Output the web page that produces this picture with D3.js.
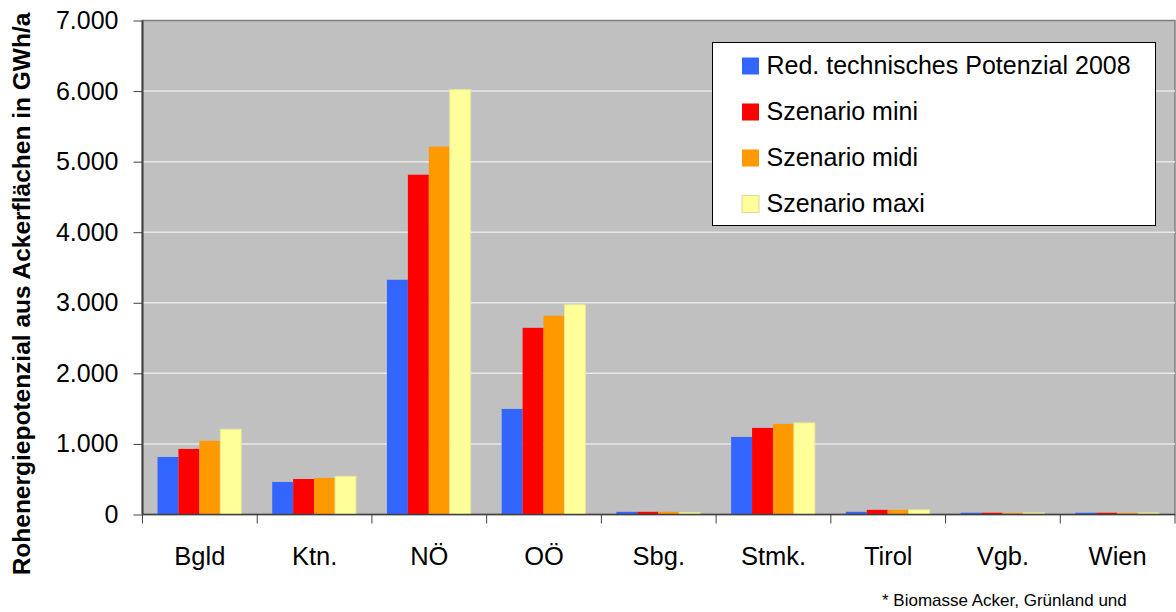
<!DOCTYPE html>
<html lang="de">
<head>
    <meta charset="UTF-8">
    <title>Rohenergiepotenzial aus Ackerflächen</title>
    <style>
        body { margin: 0; background: #fff; }
        svg { display: block; font-family: Arial, "Liberation Sans", sans-serif; }
        .axis path { display: none; }
        .axis line { stroke: #404040; }
        .grid line { stroke: #e8e8e8; stroke-width: 1.5px; }
    </style>
</head>
<body>
    <svg width="1176" height="612"></svg>
    <script src="https://d3js.org/d3.v7.min.js"></script>
    <script>
        // Data
        const categories = ["Bgld", "Ktn.", "NÖ", "OÖ", "Sbg.", "Stmk.", "Tirol", "Vgb.", "Wien"];
        const seriesNames = ["Red. technisches Potenzial 2008", "Szenario mini", "Szenario midi", "Szenario maxi"];
        const potenzial2008 = [815, 461, 3326, 1496, 38, 1099, 38, 25, 25];
        const szenarioMini  = [929, 503, 4815, 2645, 38, 1227, 66, 25, 25];
        const szenarioMidi  = [1043, 518, 5213, 2816, 38, 1284, 66, 22, 22];
        const szenarioMaxi  = [1208, 541, 6021, 2972, 28, 1298, 66, 22, 22];
        const yTicks = [0, 1000, 2000, 3000, 4000, 5000, 6000, 7000];
        const colors = ["#3366ff", "#ff0000", "#ff9900", "#ffff99"];

        const series = [potenzial2008, szenarioMini, szenarioMidi, szenarioMaxi];

        const margin = {top: 20.5, right: 1, bottom: 97.5, left: 142.5},
            width = 1176 - margin.left - margin.right,
            height = 612 - margin.top - margin.bottom;

        const svg = d3.select("svg");
        const g = svg.append("g")
            .attr("transform", "translate(" + margin.left + "," + margin.top + ")");

        const x = d3.scaleBand().domain(categories).range([0, width]).paddingInner(0).paddingOuter(0);
        const x1 = d3.scaleBand().domain(d3.range(series.length)).range([15, x.bandwidth() - 16]).padding(0);
        const y = d3.scaleLinear().domain([0, 7000]).range([height, 0]);

        // plot area
        g.append("rect")
            .attr("width", width)
            .attr("height", height)
            .attr("fill", "#c0c0c0")
            .attr("stroke", "#808080")
            .attr("stroke-width", 1.5);

        // gridlines
        g.append("g")
            .attr("class", "grid")
            .selectAll("line")
            .data(yTicks.filter(function(d) { return d > 0 && d < 7000; }))
            .enter().append("line")
            .attr("x1", 0)
            .attr("x2", width)
            .attr("y1", function(d) { return y(d); })
            .attr("y2", function(d) { return y(d); });

        // bars
        const groups = g.selectAll(".cat")
            .data(categories)
            .enter().append("g")
            .attr("transform", function(d) { return "translate(" + x(d) + ",0)"; });

        groups.selectAll("rect")
            .data(function(d, i) { return series.map(function(s, j) { return {k: j, v: s[i]}; }); })
            .enter().append("rect")
            .attr("x", function(d) { return x1(d.k); })
            .attr("width", x1.bandwidth())
            .attr("y", function(d) { return y(d.v); })
            .attr("height", function(d) { return height - y(d.v); })
            .attr("fill", function(d) { return colors[d.k]; })
            .attr("stroke", function(d) { return d.k === 3 ? "#e6e69a" : "none"; })
            .attr("stroke-width", 1);

        // y axis
        const yAxis = g.append("g")
            .attr("class", "axis")
            .call(d3.axisLeft(y).tickValues(yTicks).tickSize(9).tickPadding(15)
                .tickFormat(function(d) { return d3.format(",")(d).replace(/,/g, "."); }));
        yAxis.selectAll("text").style("font-size", "25px").attr("fill", "#000");
        g.append("line")
            .attr("x1", 0).attr("x2", 0).attr("y1", 0).attr("y2", height)
            .attr("stroke", "#404040").attr("stroke-width", 2);

        // x axis
        const xAxis = g.append("g")
            .attr("class", "axis")
            .attr("transform", "translate(0," + height + ")")
            .call(d3.axisBottom(x).tickSize(0).tickPadding(32));
        xAxis.selectAll("text").style("font-size", "25.5px").attr("fill", "#000");
        g.append("line")
            .attr("x1", 0).attr("x2", width).attr("y1", height).attr("y2", height)
            .attr("stroke", "#404040").attr("stroke-width", 1.5);
        const bounds = categories.map(function(d) { return x(d); }).concat([width]);
        g.append("g").selectAll("line")
            .data(bounds)
            .enter().append("line")
            .attr("x1", function(d) { return d; })
            .attr("x2", function(d) { return d; })
            .attr("y1", height)
            .attr("y2", height + 9)
            .attr("stroke", "#404040");

        // y title
        svg.append("text")
            .attr("transform", "translate(30," + 294 + ") rotate(-90)")
            .attr("text-anchor", "middle")
            .style("font-size", "24.5px")
            .style("font-weight", "bold")
            .text("Rohenergiepotenzial aus Ackerflächen in GWh/a");

        // legend
        const legend = svg.append("g").attr("transform", "translate(712.5,42.5)");
        legend.append("rect")
            .attr("width", 443)
            .attr("height", 183)
            .attr("fill", "#fff")
            .attr("stroke", "#000");
        const items = legend.selectAll(".item")
            .data(seriesNames)
            .enter().append("g")
            .attr("transform", function(d, i) { return "translate(0," + (23 + 46 * i) + ")"; });
        items.append("rect")
            .attr("x", 29.5)
            .attr("y", -8)
            .attr("width", 17)
            .attr("height", 17)
            .attr("fill", function(d, i) { return colors[i]; })
            .attr("stroke", function(d, i) { return i === 3 ? "#d8d8a0" : "none"; });
        items.append("text")
            .attr("x", 54)
            .attr("dy", "0.35em")
            .style("font-size", "25px")
            .text(function(d) { return d; });

        // footnote
        svg.append("text")
            .attr("x", 882)
            .attr("y", 606)
            .style("font-size", "17px")
            .text("* Biomasse Acker, Grünland und");
    </script>
</body>
</html>
